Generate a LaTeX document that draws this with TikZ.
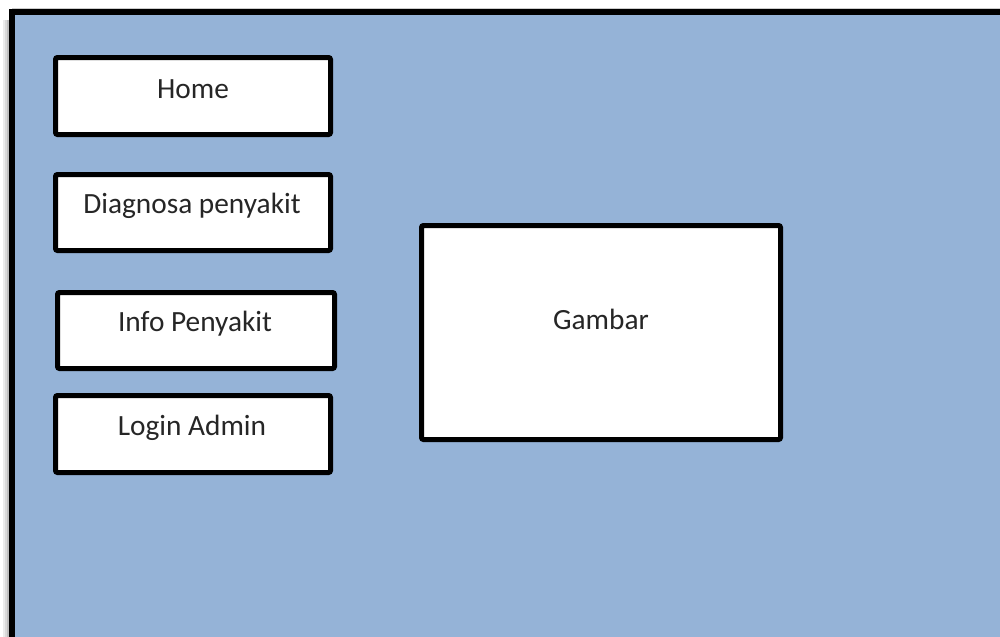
\documentclass[tikz,border=0pt]{standalone}
\usepackage{fontspec}
\setmainfont{Carlito}
\definecolor{panelblue}{HTML}{95B3D7}
\begin{document}
\begin{tikzpicture}[x=0.75pt,y=-0.75pt,
  menubox/.style={draw=black,fill=white,line width=3.75pt,rounded corners=1.5pt},
  label/.style={font=\fontsize{22}{26}\selectfont,text=black!85,inner sep=0pt}]
  \useasboundingbox (0,0) rectangle (1000,636);
  \clip (0,0) rectangle (1000,636);
  % soft shadow on the left of the panel
  \foreach \d/\c in {9/8,7/15,5/25,3/40}{
    \fill[black!\c] (12-\d,20) rectangle (12,640);
  }
  \fill[black!20] (12,8) rectangle (1010,12);
  % main panel
  \draw[line width=4.5pt,fill=panelblue] (12,12) rectangle (1012,650);
  % menu buttons
  \draw[menubox] (55.5,57.5) rectangle (330.5,134.5);
  \node[label] (home) at (193,89) {Home};
  \draw[menubox] (55.5,174.5) rectangle (330.5,250.5);
  \node[label] (diag) at (192,206) {Diagnosa penyakit};
  \draw[menubox] (57.5,292.5) rectangle (334.5,368.5);
  \node[label] (info) at (195,324) {Info Penyakit};
  \draw[menubox] (55.5,395.5) rectangle (330.5,472.5);
  \node[label] (login) at (192,428) {Login Admin};
  % picture area
  \draw[menubox] (421.5,225.5) rectangle (780.5,439.5);
  \node[label] (img) at (601,319) {Gambar};
\end{tikzpicture}
\end{document}
